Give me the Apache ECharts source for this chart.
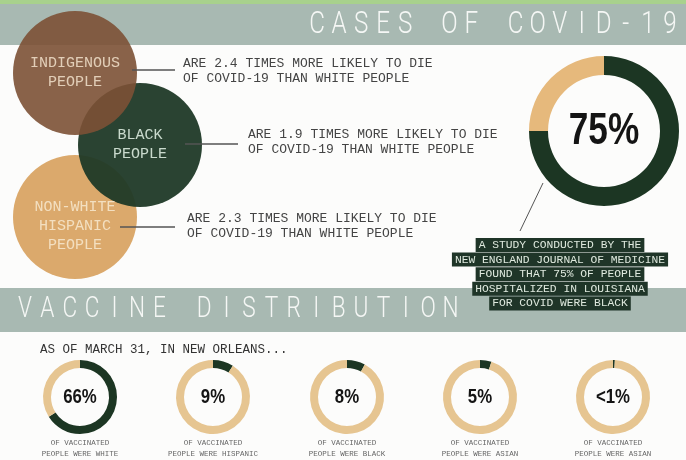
<!DOCTYPE html>
<html><head><meta charset="utf-8">
<script src="https://cdn.jsdelivr.net/npm/echarts@6/dist/echarts.min.js"></script>
<style>html,body{margin:0;padding:0;background:#fcfcfb}#c{width:686px;height:460px}</style>
</head><body><div id="c"></div>
<script>
// ---- data ----
const titleTop = 'CASES OF COVID-19';
const titleMid = 'VACCINE DISTRIBUTION';
const groups = ['INDIGENOUS\nPEOPLE', 'BLACK\nPEOPLE', 'NON-WHITE\nHISPANIC\nPEOPLE'];
const deathRatios = [2.4, 1.9, 2.3];
const hospitalBlackPct = 75;
const studyNote = ['A STUDY CONDUCTED BY THE', 'NEW ENGLAND JOURNAL OF MEDICINE', 'FOUND THAT 75% OF PEOPLE', 'HOSPITALIZED IN LOUISIANA', 'FOR COVID WERE BLACK'];
const vaxIntro = 'AS OF MARCH 31, IN NEW ORLEANS...';
const vaxGroups = ['WHITE', 'HISPANIC', 'BLACK', 'ASIAN', 'ASIAN'];
const vaxPct = [66, 9, 8, 5, 0.8];
const vaxLabels = ['66%', '9%', '8%', '5%', '<1%'];

// ---- style / layout ----
const DARK = '#1c3623', TAN = '#e6b97c', TAN2 = '#e6c591', BAND = '#a8b9b2';
const MONO = '"Liberation Mono","DejaVu Sans Mono",monospace';
const BOLD = '"Liberation Sans","DejaVu Sans",sans-serif';
const vennPos = [[75, 73], [140, 145], [75, 217]];
const vennColors = ['#7c5135', '#1f3927', '#dba96c'];
const vennOpacity = [0.9, 0.95, 1];
const vennLabelColor = ['#ecdac4', '#d3e3d6', '#f3dfc0'];
const vennLabelOffset = [[0, 0], [0, 0], [0, 9]];
const sentencePos = [[183, 71], [248, 142], [187, 226]];
const connectors = [[132, 175, 70], [185, 238, 144], [120, 175, 227]];
const bigCenter = [604, 131];
const vaxX = [80, 213, 347, 480, 613];
const vaxY = 397;

function spaced(str, x0, pitch, y, size) {
  const out = [];
  str.split('').forEach((ch, i) => {
    if (ch === ' ') return;
    out.push({
      type: 'text', x: x0 + i * pitch, y: y, scaleX: 0.78, z: 5,
      style: { text: ch, fill: '#f5f7f5', fontFamily: 'Roboto', fontWeight: 300, fontSize: size,
        textAlign: 'center', align: 'center', textVerticalAlign: 'middle', verticalAlign: 'middle' }
    });
  });
  return out;
}
function txt(o) {
  return Object.assign({ type: 'text', z: 5 }, o);
}
function centerLabel(text, x, y, size) {
  return txt({ x: x, y: y, scaleX: 0.8, z: 7,
    style: { text: text, fill: '#141414', fontFamily: BOLD, fontWeight: 'bold', fontSize: size,
      textAlign: 'center', align: 'center', textVerticalAlign: 'middle', verticalAlign: 'middle' } });
}

const graphic = [
  { type: 'rect', z: 1, shape: { x: 0, y: 0, width: 686, height: 4 }, style: { fill: '#a8d18d' } },
  { type: 'rect', z: 1, shape: { x: 0, y: 4, width: 686, height: 41 }, style: { fill: BAND } },
  { type: 'rect', z: 1, shape: { x: 0, y: 288, width: 686, height: 44 }, style: { fill: BAND } },
  ...spaced(titleTop, 317, 22.06, 25, 31),
  ...spaced(titleMid, 25, 22.4, 310, 29)
];
deathRatios.forEach((r, i) => {
  const c = connectors[i];
  graphic.push({ type: 'line', z: 5, shape: { x1: c[0], y1: c[2], x2: c[1], y2: c[2] }, style: { stroke: '#555', lineWidth: 1.3 } });
  graphic.push(txt({
    x: sentencePos[i][0], y: sentencePos[i][1],
    style: { text: 'ARE ' + r.toFixed(1) + ' TIMES MORE LIKELY TO DIE\nOF COVID-19 THAN WHITE PEOPLE',
      fill: '#444', fontFamily: MONO, fontSize: 13, lineHeight: 15,
      textAlign: 'left', align: 'left', textVerticalAlign: 'middle', verticalAlign: 'middle' }
  }));
});
graphic.push({ type: 'line', z: 5, shape: { x1: 543, y1: 183, x2: 520, y2: 231 }, style: { stroke: '#555', lineWidth: 1 } });
studyNote.forEach((s, i) => {
  graphic.push(txt({
    x: 560, y: 245 + i * 14.6, z: 6,
    style: { text: s, fill: '#dfe9de', fontFamily: MONO, fontSize: 11.3, lineHeight: 10,
      backgroundColor: '#1f3528', padding: [2, 3],
      textAlign: 'center', align: 'center', textVerticalAlign: 'middle', verticalAlign: 'middle' }
  }));
});
graphic.push(txt({
  x: 40, y: 350,
  style: { text: vaxIntro, fill: '#333', fontFamily: MONO, fontSize: 12.5,
    textAlign: 'left', align: 'left', textVerticalAlign: 'middle', verticalAlign: 'middle' }
}));
graphic.push(centerLabel(hospitalBlackPct + '%', bigCenter[0], bigCenter[1] + 1, 44));
vaxGroups.forEach((g, i) => {
  graphic.push(txt({
    x: vaxX[i], y: 448.5,
    style: { text: 'OF VACCINATED\nPEOPLE WERE ' + g, fill: '#666', fontFamily: MONO, fontSize: 7.5, lineHeight: 11,
      textAlign: 'center', align: 'center', textVerticalAlign: 'middle', verticalAlign: 'middle' }
  }));
  graphic.push(centerLabel(vaxLabels[i], vaxX[i], vaxY, 21));
});

const series = [];
// Venn-style circles (drawn hispanic first, indigenous on top)
[2, 1, 0].forEach(i => {
  series.push({
    type: 'pie', silent: true, animation: false, center: vennPos[i], radius: [0, 62],
    label: { show: true, position: 'center', formatter: '{b}', color: vennLabelColor[i],
      fontFamily: MONO, fontSize: 15, lineHeight: 19, offset: vennLabelOffset[i] },
    labelLine: { show: false },
    itemStyle: { color: vennColors[i], opacity: vennOpacity[i] },
    data: [{ name: groups[i], value: deathRatios[i] }]
  });
});
// big donut
series.push({
  type: 'pie', silent: true, animation: false, center: bigCenter, radius: [56, 75],
  startAngle: 90, clockwise: true, label: { show: false }, labelLine: { show: false },
  data: [
    { name: 'Black', value: hospitalBlackPct, itemStyle: { color: DARK } },
    { name: 'Other', value: 100 - hospitalBlackPct, itemStyle: { color: TAN } }
  ]
});
// small donuts
vaxPct.forEach((v, i) => {
  series.push({
    type: 'pie', silent: true, animation: false, center: [vaxX[i], vaxY], radius: [29, 37],
    startAngle: 90, clockwise: true, label: { show: false }, labelLine: { show: false },
    data: [
      { name: vaxGroups[i], value: v, itemStyle: { color: DARK } },
      { name: 'rest', value: 100 - v, itemStyle: { color: TAN2 } }
    ]
  });
});

const chart = echarts.init(document.getElementById('c'), null, { renderer: 'canvas' });
chart.setOption({ backgroundColor: '#fcfcfb', animation: false, graphic: { elements: graphic }, series: series });
</script></body></html>
